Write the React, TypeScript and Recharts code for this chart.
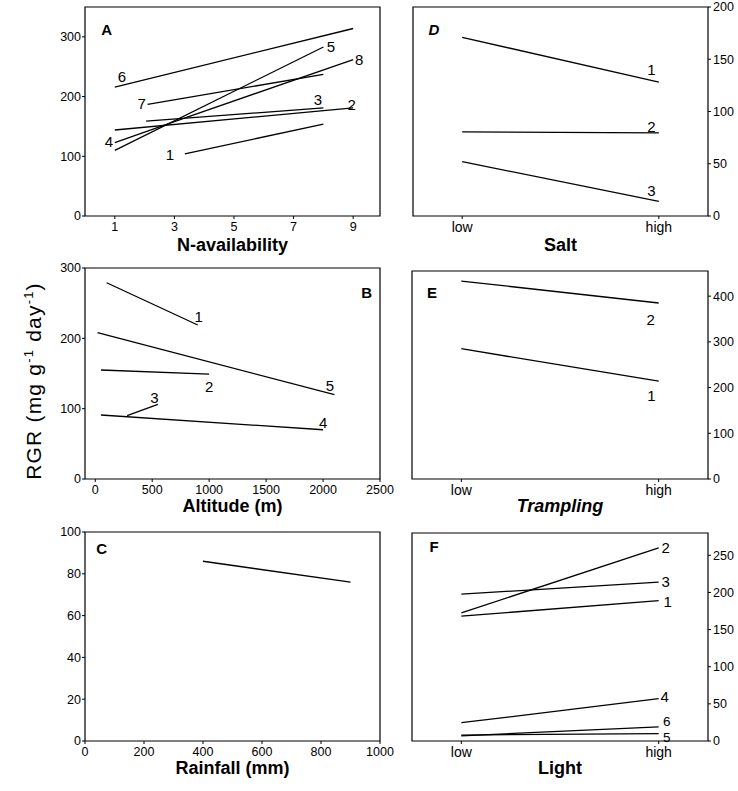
import React from 'react';
import { LineChart, Line, XAxis, YAxis, ReferenceArea } from 'recharts';

type Pt = { x: number; y: number };

const FONT = '"Liberation Sans", Arial, Helvetica, sans-serif';

// ---------- Panel A : N-availability ----------
const nAvailTicks = [1, 3, 5, 7, 9];
const rgrTicksA = [0, 100, 200, 300];
const aLine1: Pt[] = [{ x: 3.35, y: 104 }, { x: 8, y: 154 }];
const aLine2: Pt[] = [{ x: 1, y: 144 }, { x: 9, y: 181 }];
const aLine3: Pt[] = [{ x: 2.05, y: 159 }, { x: 8, y: 181 }];
const aLine4: Pt[] = [{ x: 1, y: 123 }, { x: 3, y: 158 }];
const aLine5: Pt[] = [{ x: 1, y: 110 }, { x: 8, y: 283 }];
const aLine6: Pt[] = [{ x: 1, y: 216 }, { x: 9, y: 314 }];
const aLine7: Pt[] = [{ x: 2.1, y: 187 }, { x: 8, y: 237 }];
const aLine8: Pt[] = [{ x: 3, y: 158 }, { x: 9, y: 262 }];

// ---------- Panel B : Altitude ----------
const altitudeTicks = [0, 500, 1000, 1500, 2000, 2500];
const rgrTicksB = [0, 100, 200, 300];
const bLine1: Pt[] = [{ x: 100, y: 279 }, { x: 900, y: 219 }];
const bLine2: Pt[] = [{ x: 50, y: 155 }, { x: 1000, y: 149 }];
const bLine3: Pt[] = [{ x: 280, y: 90 }, { x: 550, y: 106 }];
const bLine4: Pt[] = [{ x: 50, y: 91 }, { x: 2000, y: 70 }];
const bLine5: Pt[] = [{ x: 20, y: 208 }, { x: 2100, y: 120 }];

// ---------- Panel C : Rainfall ----------
const rainfallTicks = [0, 200, 400, 600, 800, 1000];
const rgrTicksC = [0, 20, 40, 60, 80, 100];
const cLine: Pt[] = [{ x: 400, y: 86 }, { x: 900, y: 76 }];

// ---------- Panels D, E, F : low / high ----------
const levels = ['low', 'high'];
const rgrTicksD = [0, 50, 100, 150, 200];
const salt1 = [171, 128];
const salt2 = [80.5, 79.5];
const salt3 = [52, 14];

const rgrTicksE = [0, 100, 200, 300, 400];
const trampling1 = [285, 214];
const trampling2 = [433, 385];

const rgrTicksF = [0, 50, 100, 150, 200, 250];
const light1 = [168, 189];
const light2 = [172.5, 260];
const light3 = [197.6, 214];
const light4 = [24.6, 57];
const light5 = [8, 10];
const light6 = [7, 19];

const toPts = (vals: number[]): Pt[] => levels.map((_, i) => ({ x: i, y: vals[i] }));
const levelTicks = levels.map((_, i) => i);
const levelFmt = (v: number) => levels[v] ?? '';

// ---------- label placement (style) ----------
type SeriesDef = { pts: Pt[]; label: string; at: number; dx: number; dy: number; fs?: number };

const makeLabel = (s: SeriesDef) => (p: any) => {
  if (p.index !== s.at) return null;
  const x = p.x ?? p.viewBox?.x;
  const y = p.y ?? p.viewBox?.y;
  if (x == null || y == null) return null;
  return (
    <text x={x + s.dx} y={y + s.dy} textAnchor="middle" fontSize={s.fs ?? 15} fontFamily={FONT} fill="#000">
      {s.label}
    </text>
  );
};

type Geo = { x: number; y: number; w: number; h: number; side: 'left' | 'right'; xh: number };

const Panel = ({
  g,
  xDomain,
  yDomain,
  xTicks,
  yTicks,
  xFmt,
  title,
  italicTitle,
  series,
  xTickSize,
}: {
  g: Geo;
  xDomain: [number, number];
  yDomain: [number, number];
  xTicks: number[];
  yTicks: number[];
  xFmt?: (v: number) => string;
  title: string;
  italicTitle?: boolean;
  series: SeriesDef[];
  xTickSize: number;
}) => {
  const YW = 50;
  const PAD = 22;
  const TOP = 12;
  const BOTTOM = 8;
  const isLeft = g.side === 'left';
  const width = YW + g.w + PAD;
  const height = TOP + g.h + g.xh + BOTTOM;
  return (
    <div style={{ position: 'absolute', left: isLeft ? g.x - YW : g.x - PAD, top: g.y - TOP, width, height }}>
      <LineChart
        width={width}
        height={height}
        margin={{ top: TOP, bottom: BOTTOM, left: isLeft ? 0 : PAD, right: isLeft ? PAD : 0 }}
      >
        <XAxis
          type="number"
          dataKey="x"
          domain={xDomain}
          ticks={xTicks}
          interval={0}
          allowDataOverflow
          axisLine={false}
          tickLine={{ stroke: '#000' }}
          tickSize={3}
          tickMargin={3}
          tick={{ fill: '#000', fontSize: xTickSize, fontFamily: FONT }}
          tickFormatter={xFmt}
          height={g.xh}
          label={{
            value: title,
            position: 'insideBottom',
            offset: 0,
            fill: '#000',
            fontSize: 18,
            fontWeight: 'bold',
            fontStyle: italicTitle ? 'italic' : 'normal',
            fontFamily: FONT,
          }}
        />
        <YAxis
          type="number"
          orientation={g.side}
          domain={yDomain}
          ticks={yTicks}
          interval={0}
          allowDataOverflow
          axisLine={false}
          width={YW}
          tickLine={{ stroke: '#000' }}
          tickSize={3}
          tickMargin={isLeft ? 1 : 2}
          tick={{ fill: '#000', fontSize: 12.5, fontFamily: FONT }}
        />
        <ReferenceArea
          x1={xDomain[0]}
          x2={xDomain[1]}
          y1={yDomain[0]}
          y2={yDomain[1]}
          fill="none"
          stroke="#000"
          strokeWidth={1.2}
          ifOverflow="visible"
        />
        {series.map((s, i) => (
          <Line
            key={i}
            data={s.pts}
            dataKey="y"
            type="linear"
            stroke="#000"
            strokeWidth={1.3}
            dot={false}
            activeDot={false}
            isAnimationActive={false}
            label={makeLabel(s)}
          />
        ))}
      </LineChart>
    </div>
  );
};

const seriesA: SeriesDef[] = [
  { pts: aLine1, label: '1', at: 0, dx: -15, dy: 6.5 },
  { pts: aLine2, label: '2', at: 1, dx: -1.5, dy: 2.2 },
  { pts: aLine3, label: '3', at: 1, dx: -5.5, dy: -2.5 },
  { pts: aLine4, label: '4', at: 0, dx: -6, dy: 4.5 },
  { pts: aLine5, label: '5', at: 1, dx: 7.5, dy: 5 },
  { pts: aLine6, label: '6', at: 0, dx: 7, dy: -4.8 },
  { pts: aLine7, label: '7', at: 0, dx: -6, dy: 4.5 },
  { pts: aLine8, label: '8', at: 1, dx: 6, dy: 5 },
];

const seriesB: SeriesDef[] = [
  { pts: bLine1, label: '1', at: 1, dx: 1, dy: -3 },
  { pts: bLine2, label: '2', at: 1, dx: 0, dy: 18 },
  { pts: bLine3, label: '3', at: 1, dx: -3.5, dy: -1 },
  { pts: bLine4, label: '4', at: 1, dx: 0, dy: -2 },
  { pts: bLine5, label: '5', at: 1, dx: -4.5, dy: -3.5 },
];

const seriesC: SeriesDef[] = [{ pts: cLine, label: '', at: -1, dx: 0, dy: 0 }];

const seriesD: SeriesDef[] = [
  { pts: toPts(salt1), label: '1', at: 1, dx: -7.3, dy: -6.8 },
  { pts: toPts(salt2), label: '2', at: 1, dx: -7.3, dy: -0.5 },
  { pts: toPts(salt3), label: '3', at: 1, dx: -7.3, dy: -5.3 },
];

const seriesE: SeriesDef[] = [
  { pts: toPts(trampling1), label: '1', at: 1, dx: -7.3, dy: 20 },
  { pts: toPts(trampling2), label: '2', at: 1, dx: -8, dy: 22.4 },
];

const seriesF: SeriesDef[] = [
  { pts: toPts(light1), label: '1', at: 1, dx: 9, dy: 6.5 },
  { pts: toPts(light2), label: '2', at: 1, dx: 7, dy: 5 },
  { pts: toPts(light3), label: '3', at: 1, dx: 7, dy: 5 },
  { pts: toPts(light4), label: '4', at: 1, dx: 6, dy: 3.5 },
  { pts: toPts(light5), label: '5', at: 1, dx: 8, dy: 8, fs: 13.5 },
  { pts: toPts(light6), label: '6', at: 1, dx: 8, dy: -0.5, fs: 13.5 },
];

const panelLetters = [
  { t: 'A', x: 106.7, y: 35, italic: false },
  { t: 'D', x: 434, y: 35, italic: true },
  { t: 'B', x: 366.7, y: 298, italic: false },
  { t: 'E', x: 432, y: 298, italic: false },
  { t: 'C', x: 101.7, y: 554, italic: false },
  { t: 'F', x: 434, y: 551.5, italic: false },
];

export default function App() {
  return (
    <div style={{ position: 'absolute', left: 0, top: 0, width: 738, height: 791, background: '#fff' }}>
      <Panel
        g={{ x: 85, y: 7, w: 295, h: 209, side: 'left', xh: 35 }}
        xDomain={[0, 9.9]}
        yDomain={[0, 350]}
        xTicks={nAvailTicks}
        yTicks={rgrTicksA}
        title="N-availability"
        series={seriesA}
        xTickSize={12.5}
      />
      <Panel
        g={{ x: 413, y: 7, w: 295, h: 209, side: 'right', xh: 35 }}
        xDomain={[-0.25, 1.25]}
        yDomain={[0, 200]}
        xTicks={levelTicks}
        yTicks={rgrTicksD}
        xFmt={levelFmt}
        title="Salt"
        series={seriesD}
        xTickSize={14}
      />
      <Panel
        g={{ x: 85, y: 268, w: 295, h: 211, side: 'left', xh: 33 }}
        xDomain={[-90, 2500]}
        yDomain={[0, 300]}
        xTicks={altitudeTicks}
        yTicks={rgrTicksB}
        title="Altitude (m)"
        series={seriesB}
        xTickSize={12.5}
      />
      <Panel
        g={{ x: 412, y: 271, w: 296, h: 208, side: 'right', xh: 33 }}
        xDomain={[-0.25, 1.25]}
        yDomain={[0, 455]}
        xTicks={levelTicks}
        yTicks={rgrTicksE}
        xFmt={levelFmt}
        title="Trampling"
        italicTitle
        series={seriesE}
        xTickSize={14}
      />
      <Panel
        g={{ x: 85, y: 532, w: 295, h: 209, side: 'left', xh: 33 }}
        xDomain={[0, 1000]}
        yDomain={[0, 100]}
        xTicks={rainfallTicks}
        yTicks={rgrTicksC}
        title="Rainfall (mm)"
        series={seriesC}
        xTickSize={12.5}
      />
      <Panel
        g={{ x: 412, y: 533, w: 296, h: 208, side: 'right', xh: 33 }}
        xDomain={[-0.25, 1.25]}
        yDomain={[0, 280]}
        xTicks={levelTicks}
        yTicks={rgrTicksF}
        xFmt={levelFmt}
        title="Light"
        series={seriesF}
        xTickSize={14}
      />
      <svg
        width={738}
        height={791}
        style={{ position: 'absolute', left: 0, top: 0, pointerEvents: 'none' }}
      >
        <text
          x={40.5}
          y={381}
          transform="rotate(-90 40.5 381)"
          textAnchor="middle"
          fontSize={21}
          letterSpacing={1.2}
          fontFamily={FONT}
          fill="#000"
        >
          RGR (mg g<tspan dy={-8} fontSize={13}>-1</tspan>
          <tspan dy={8}> day</tspan>
          <tspan dy={-8} fontSize={13}>-1</tspan>
          <tspan dy={8}>)</tspan>
        </text>
        {panelLetters.map((l) => (
          <text
            key={l.t}
            x={l.x}
            y={l.y}
            textAnchor="middle"
            fontSize={15}
            fontWeight="bold"
            fontStyle={l.italic ? 'italic' : 'normal'}
            fontFamily={FONT}
            fill="#000"
          >
            {l.t}
          </text>
        ))}
      </svg>
    </div>
  );
}
